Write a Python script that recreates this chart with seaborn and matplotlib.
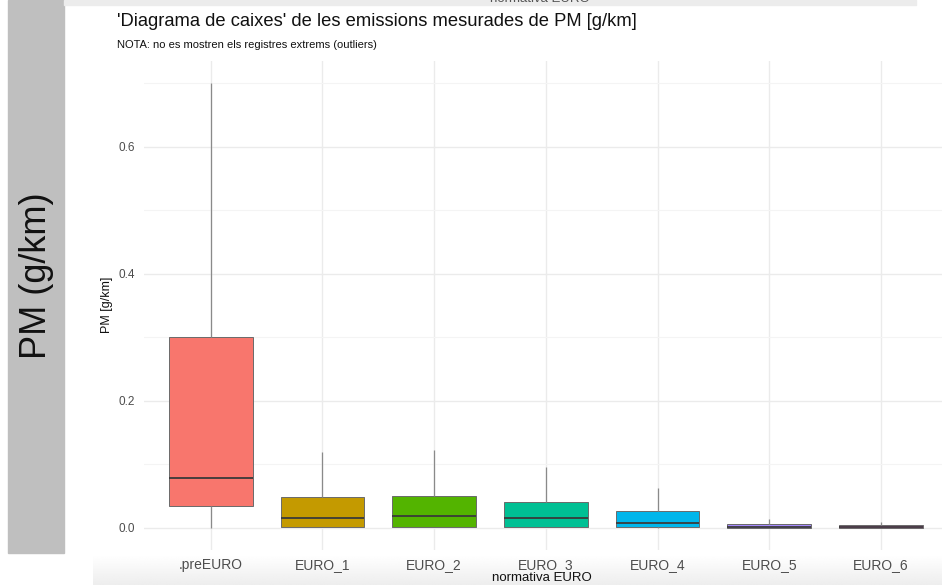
import numpy as np
import pandas as pd
import matplotlib
matplotlib.use("Agg")
import matplotlib.pyplot as plt
import seaborn as sns

# ---- data ----
categories = [".preEURO", "EURO_1", "EURO_2", "EURO_3", "EURO_4", "EURO_5", "EURO_6"]
whisker_low = [0.000, 0.001, 0.001, 0.001, 0.000, 0.000, 0.000]
q1_values = [0.0335, 0.001, 0.002, 0.002, 0.0005, 0.0003, 0.0003]
medians = [0.078, 0.015, 0.018, 0.015, 0.0075, 0.0015, 0.0012]
q3_values = [0.301, 0.049, 0.050, 0.040, 0.026, 0.0058, 0.0045]
whisker_high = [0.700, 0.120, 0.122, 0.096, 0.0625, 0.014, 0.0094]
colors = ["#F8766D", "#C49A00", "#53B400", "#00C094", "#00B6EB", "#A58AFF", "#FB61D7"]
y_ticks = [0.0, 0.2, 0.4, 0.6]
y_tick_labels = ["0.0", "0.2", "0.4", "0.6"]

rows = []
for c, a, b, m, d, e in zip(categories, whisker_low, q1_values, medians, q3_values, whisker_high):
    for v in (a, b, m, d, e):
        rows.append({"normativa": c, "PM": v})
df = pd.DataFrame(rows)

W, H = 942, 585
fig = plt.figure(figsize=(W / 100, H / 100), dpi=100)
plt.rcParams['font.family'] = ['Liberation Sans', 'DejaVu Sans']

def fx(x):
    return x / W

def fy(y):
    return 1 - y / H

# background decorations
fig.patches.append(plt.Rectangle((fx(8), fy(553)), fx(64) - fx(8), fy(0) - fy(553),
                                 transform=fig.transFigure, color="#bfbfbf", zorder=0))
fig.patches.append(plt.Rectangle((fx(64), fy(5)), fx(916) - fx(64), fy(0) - fy(5),
                                 transform=fig.transFigure, color="#ececec", zorder=0))
fig.text(fx(540), fy(-1), "normativa EURO", ha="center", va="center", fontsize=9.5, color="#555555")
fig.text(fx(36), fy(276), "PM (g/km)", rotation=90, ha="center", va="center", fontsize=26, color="#111111")

# bottom gradient shade
gax = fig.add_axes([fx(93), 0, 1 - fx(93), fy(556)])
grad = np.linspace(1.0, 0.93, 50).reshape(-1, 1)
gax.imshow(np.repeat(grad, 10, axis=1), aspect="auto", cmap="gray", vmin=0, vmax=1,
           extent=[0, 1, 0, 1], origin="upper")
gax.set_axis_off()
gax.set_zorder(0)

# main axes
left, right, top, bottom = 143.7, 942, 61, 550
ax = fig.add_axes([fx(left), fy(bottom), fx(right) - fx(left), fy(top) - fy(bottom)])
ax.set_zorder(1)
ax.patch.set_alpha(0)

sns.boxplot(data=df, x="normativa", y="PM", hue="normativa", order=categories,
            hue_order=categories, palette=colors, saturation=1, width=0.75,
            whis=(0, 100), showfliers=False, showcaps=False, legend=False,
            linecolor="#6a6a6a", linewidth=0.7,
            medianprops=dict(color="#3a3a3a", linewidth=1.3),
            whiskerprops=dict(color="#8a8a8a", linewidth=0.9),
            ax=ax)

ax.set_xlim(-0.6, -0.6 + (right - left) / 111.7)
ax.set_ylim(-0.035, 0.735)
ax.set_yticks(y_ticks)
ax.set_yticklabels(y_tick_labels)
ax.set_yticks([0.1, 0.3, 0.5, 0.7], minor=True)
ax.grid(True, which="major", color="#ebebeb", linewidth=1.0)
ax.grid(True, which="minor", axis="y", color="#f4f4f4", linewidth=0.8)
ax.set_axisbelow(True)
for s in ax.spines.values():
    s.set_visible(False)
ax.tick_params(axis="both", which="both", length=0)
ax.tick_params(axis="y", labelsize=8.5, labelcolor="#4d4d4d", pad=6)
ax.tick_params(axis="x", labelsize=10, labelcolor="#4d4d4d", pad=6)
ax.set_xlabel("")
ax.set_ylabel("")

fig.text(fx(107), fy(305), "PM [g/km]", rotation=90, ha="center", va="center", fontsize=9, color="#111111")
fig.text(fx(542), fy(578), "normativa EURO", ha="center", va="center", fontsize=9.5, color="#111111")
fig.text(fx(117), fy(22), "'Diagrama de caixes' de les emissions mesurades de PM [g/km]",
         ha="left", va="center", fontsize=13.2, color="#111111")
fig.text(fx(117), fy(45), "NOTA: no es mostren els registres extrems (outliers)",
         ha="left", va="center", fontsize=8, color="#111111")

fig.savefig("out.png", dpi=100)
